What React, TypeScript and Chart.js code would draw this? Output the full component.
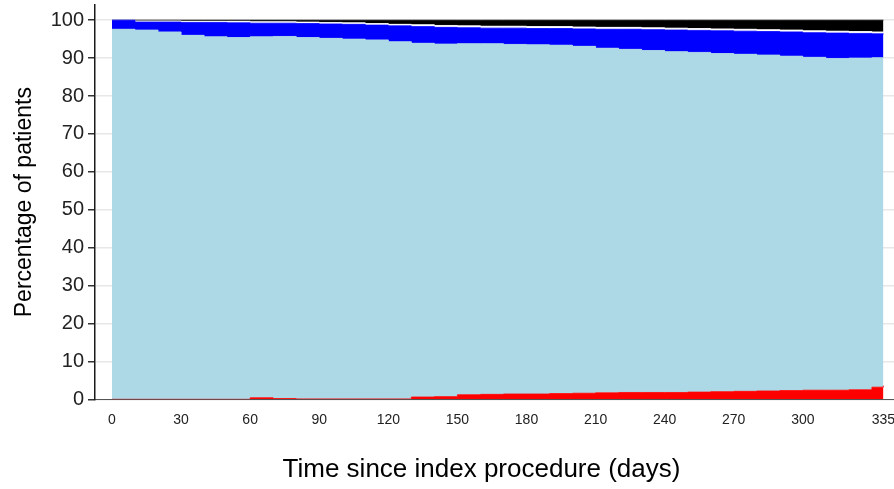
import React, { useEffect, useRef } from "react";
import { Chart, registerables } from "chart.js";

Chart.register(...registerables);

const days = [0, 10, 20, 30, 40, 50, 60, 70, 80, 90, 100, 110, 120, 130, 140, 150, 160, 170, 180, 190, 200, 210, 220, 230, 240, 250, 260, 270, 280, 290, 300, 310, 320, 330, 335];
const redPct = [0, 0, 0, 0, 0, 0, 0.4, 0.2, 0.1, 0.1, 0.1, 0.1, 0.1, 0.6, 0.7, 1.2, 1.3, 1.4, 1.4, 1.5, 1.6, 1.7, 1.8, 1.8, 1.8, 1.9, 2.0, 2.1, 2.2, 2.3, 2.4, 2.4, 2.5, 3.2, 3.6];
const lightBluePct = [97.6, 97.4, 96.9, 96.0, 95.6, 95.4, 95.2, 95.5, 95.3, 95.1, 94.9, 94.7, 94.2, 93.3, 93.0, 92.6, 92.5, 92.2, 92.1, 91.9, 91.5, 90.9, 90.5, 90.2, 89.9, 89.6, 89.2, 88.9, 88.6, 88.2, 87.8, 87.5, 87.5, 86.9, 86.5];
const bluePct = [2.4, 2.1, 2.6, 3.4, 3.8, 3.9, 3.6, 3.5, 3.7, 3.8, 3.9, 3.9, 4.2, 4.4, 4.4, 4.2, 4.1, 4.3, 4.3, 4.4, 4.6, 5.0, 5.3, 5.5, 5.7, 5.8, 6.0, 6.1, 6.2, 6.4, 6.5, 6.7, 6.5, 6.3, 6.2];
const whitePct = [0, 0.3, 0.3, 0.3, 0.3, 0.4, 0.4, 0.4, 0.4, 0.4, 0.4, 0.4, 0.4, 0.5, 0.5, 0.5, 0.5, 0.5, 0.5, 0.5, 0.5, 0.5, 0.5, 0.5, 0.5, 0.5, 0.5, 0.5, 0.5, 0.5, 0.5, 0.5, 0.5, 0.5, 0.5];
const blackPct = [0, 0.2, 0.2, 0.3, 0.3, 0.3, 0.4, 0.4, 0.5, 0.6, 0.7, 0.9, 1.1, 1.2, 1.4, 1.5, 1.6, 1.6, 1.7, 1.7, 1.8, 1.9, 1.9, 2.0, 2.1, 2.2, 2.3, 2.4, 2.5, 2.6, 2.8, 2.9, 3.0, 3.1, 3.2];

const xTickValues = [0, 30, 60, 90, 120, 150, 180, 210, 240, 270, 300, 335];
const yTickValues = [0, 10, 20, 30, 40, 50, 60, 70, 80, 90, 100];

const X_TITLE = "Time since index procedure (days)";
const Y_TITLE = "Percentage of patients";

const FONT = "'Liberation Sans', Arial, Helvetica, sans-serif";

const xTitlePlugin = {
  id: "xTitlePlugin",
  afterDraw(chart: any) {
    const { ctx, chartArea } = chart;
    ctx.save();
    ctx.font = `26px ${FONT}`;
    ctx.fillStyle = "#000000";
    ctx.textAlign = "center";
    ctx.textBaseline = "middle";
    ctx.fillText(X_TITLE, (chartArea.left + chartArea.right) / 2 - 13, chart.height - 19);
    ctx.restore();
  },
};

export default function App() {
  const canvasRef = useRef<HTMLCanvasElement | null>(null);

  useEffect(() => {
    document.body.style.margin = "0";
    document.body.style.overflow = "hidden";
    const canvas = canvasRef.current;
    if (!canvas) return;

    const mk = (label: string, values: number[], color: string, fill: string | boolean) => ({
      label,
      data: days.map((d, i) => ({ x: d, y: values[i] })),
      backgroundColor: color,
      borderColor: color,
      borderWidth: 0.8,
      pointRadius: 0,
      pointHoverRadius: 0,
      stepped: true,
      fill,
    });

    const chart = new Chart(canvas, {
      type: "line",
      data: {
        datasets: [
          mk("Red", redPct, "#ff0000", "origin"),
          mk("Light blue", lightBluePct, "#add8e6", "-1"),
          mk("Blue", bluePct, "#0000ff", "-1"),
          mk("White", whitePct, "#ffffff", "-1"),
          mk("Black", blackPct, "#000000", "-1"),
        ] as any,
      },
      plugins: [xTitlePlugin],
      options: {
        animation: false,
        responsive: true,
        maintainAspectRatio: false,
        layout: { padding: { top: 5, left: 0, right: 0, bottom: 0 } },
        plugins: {
          legend: { display: false },
          tooltip: { enabled: false },
        },
        scales: {
          x: {
            type: "linear",
            min: -7.38,
            max: 339.6,
            grid: { display: false, drawTicks: false, tickLength: 0 },
            border: { display: true, color: "#555555", width: 1 },
            ticks: {
              color: "#222222",
              font: { family: FONT, size: 14 },
              padding: 12,
              maxRotation: 0,
              autoSkip: false,
            },
            afterBuildTicks: (scale: any) => {
              scale.ticks = xTickValues.map((v) => ({ value: v }));
            },
            afterFit: (scale: any) => {
              scale.height = 89.7;
              scale.paddingLeft = 0;
              scale.paddingRight = 0;
            },
            title: { display: false, text: X_TITLE },
          },
          y: {
            type: "linear",
            stacked: true,
            min: 0,
            max: 104,
            grid: {
              display: true,
              color: "#e8e8e8",
              lineWidth: 1.5,
              drawTicks: true,
              tickLength: 7,
              tickColor: "#333333",
            },
            border: { display: true, color: "#1a1a1a", width: 1.5 },
            ticks: {
              color: "#222222",
              font: { family: FONT, size: 20 },
              padding: 4,
            },
            afterBuildTicks: (scale: any) => {
              scale.ticks = yTickValues.map((v) => ({ value: v }));
            },
            afterFit: (scale: any) => {
              scale.width = 95;
              scale.paddingTop = 0;
              scale.paddingBottom = 0;
            },
            title: {
              display: true,
              text: Y_TITLE,
              color: "#000000",
              font: { family: FONT, size: 23, weight: "normal" },
              padding: { top: 11, bottom: 0 },
            },
          },
        },
      } as any,
    });

    return () => chart.destroy();
  }, []);

  return (
    <div style={{ position: "relative", width: "894px", height: "489px" }}>
      <canvas ref={canvasRef} />
    </div>
  );
}
